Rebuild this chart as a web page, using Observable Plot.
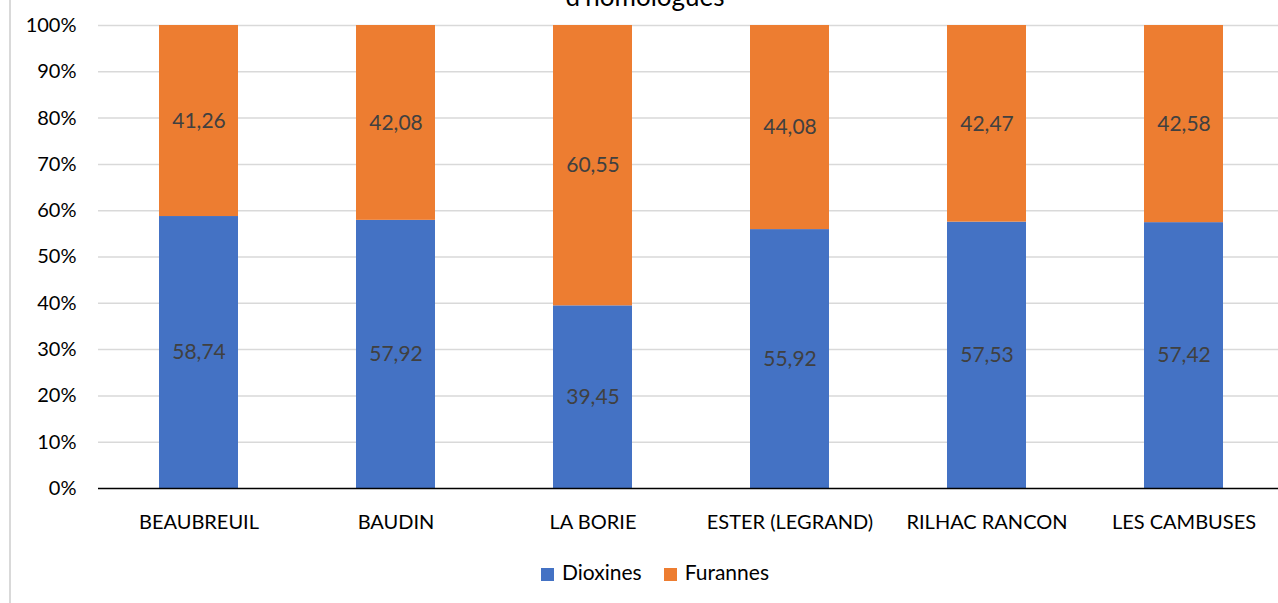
<!DOCTYPE html>
<html><head><meta charset="utf-8">
<script src="https://cdn.jsdelivr.net/npm/d3@7"></script>
<script src="https://cdn.jsdelivr.net/npm/@observablehq/plot@0.6"></script>
<style>
html,body{margin:0;padding:0;background:#fff;overflow:hidden;width:1278px;height:603px;}
#wrap{position:relative;width:1278px;height:603px;overflow:hidden;font-family:Lato,"Open Sans",sans-serif;}
#border{position:absolute;left:9px;top:0;width:2px;height:603px;background:#d9d9d9;}
#title{position:absolute;top:-19px;left:0;width:1290px;text-align:center;font-size:26px;line-height:30px;color:#000;}
#chart{position:absolute;left:0;top:0;width:1290px;}
#chart svg{max-width:none;}
#legend{position:absolute;top:559px;left:0;width:1310px;text-align:center;font-size:21px;color:#000;}
.sw{display:inline-block;width:13px;height:13px;margin-right:8px;vertical-align:-1px;}
.it{display:inline-block;margin:0 11px;}
</style></head>
<body><div id="wrap"><div id="border"></div><div id="title">d'homologues</div><div id="chart"></div>
<div id="legend"><span class="it"><span class="sw" style="background:#4472C4"></span>Dioxines</span><span class="it"><span class="sw" style="background:#ED7D31"></span>Furannes</span></div>
</div>
<script>
const categories = ["BEAUBREUIL","BAUDIN","LA BORIE","ESTER (LEGRAND)","RILHAC RANCON","LES CAMBUSES"];
const dioxines = [58.74, 57.92, 39.45, 55.92, 57.53, 57.42];
const furannes = [41.26, 42.08, 60.55, 44.08, 42.47, 42.58];
const series = ["Dioxines","Furannes"];
const yTicks = [0,10,20,30,40,50,60,70,80,90,100];

const data = [];
categories.forEach((c,i)=>{
  data.push({cat:c, serie:"Dioxines", value:dioxines[i]});
  data.push({cat:c, serie:"Furannes", value:furannes[i]});
});
const fmt = v => v.toFixed(2).replace(".", ",");

const chart = Plot.plot({
  width: 1290, height: 540,
  marginLeft: 98, marginRight: 6, marginTop: 25, marginBottom: 52,
  style: {fontFamily: "Lato, 'Open Sans', sans-serif", fontSize: "20px", color: "#000", background: "transparent", overflow: "visible"},
  x: {domain: categories, paddingInner: 0.6, paddingOuter: 0.3, label: null, tickSize: 0, tickPadding: 26},
  y: {domain: [0,100], ticks: yTicks, tickFormat: d => d + "%", label: null, tickSize: 0, tickPadding: 22, grid: false},
  color: {domain: series, range: ["#4472C4","#ED7D31"]},
  marks: [
    Plot.ruleY(yTicks.filter(d=>d>0), {stroke: "#d9d9d9", strokeWidth: 1.5, strokeOpacity: 1}),
    Plot.barY(data, {x: "cat", y: "value", fill: "serie", order: series}),
    Plot.text(data, Plot.stackY({x: "cat", y: "value", z: "serie", order: series, text: d => fmt(d.value), fill: "#404040", fontSize: 21, dy: 0})),
    Plot.ruleY([0], {stroke: "#000", strokeWidth: 1.5})
  ]
});
document.getElementById("chart").appendChild(chart);
</script>
</body></html>
